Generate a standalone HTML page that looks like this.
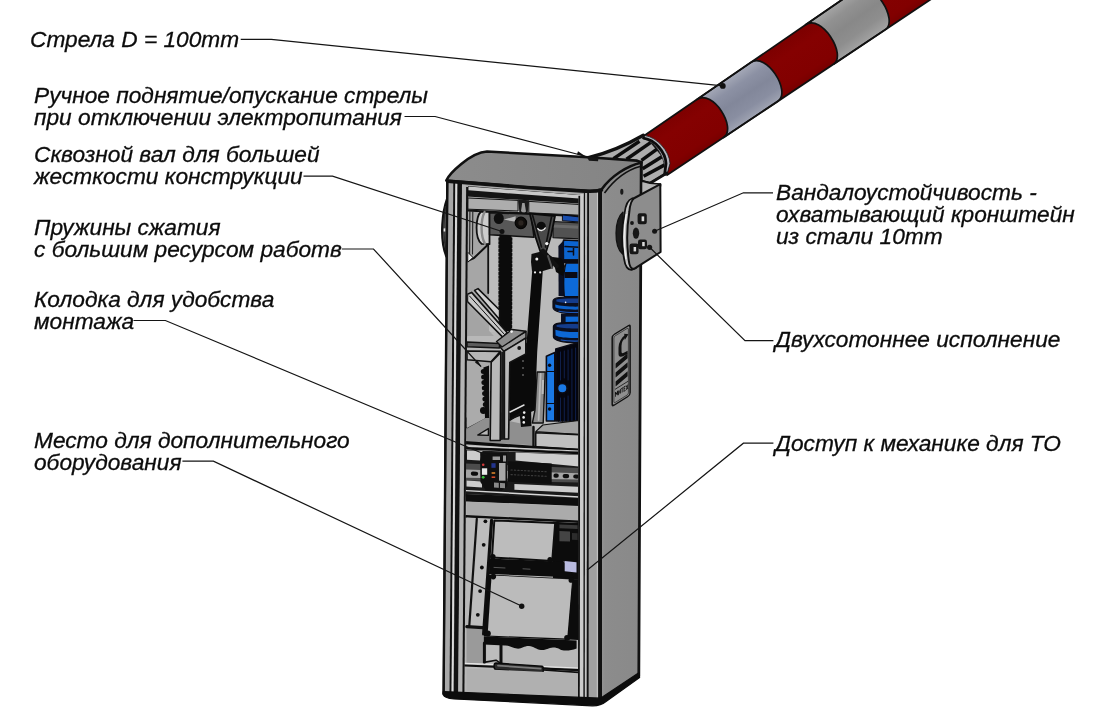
<!DOCTYPE html>
<html lang="ru">
<head>
<meta charset="utf-8">
<title>Шлагбаум - схема</title>
<style>
html,body{margin:0;padding:0;background:#fff;}
body{width:1099px;height:725px;overflow:hidden;position:relative;font-family:"Liberation Sans",sans-serif;}
svg{position:absolute;left:0;top:0;display:block;}
.lbl{position:absolute;font-family:"Liberation Sans",sans-serif;font-style:italic;font-size:22.7px;line-height:22px;color:#0c0c0c;-webkit-text-stroke:0.3px #0c0c0c;white-space:nowrap;will-change:transform;opacity:0.999;}
</style>
</head>
<body>
<svg id="art" width="1099" height="725" viewBox="0 0 1099 725">
<defs>
<linearGradient id="gSide" x1="0" y1="0" x2="1" y2="0">
<stop offset="0" stop-color="#949494"/><stop offset="0.12" stop-color="#8c8c8c"/><stop offset="1" stop-color="#898989"/>
</linearGradient>
<linearGradient id="gRed" gradientUnits="userSpaceOnUse" x1="700" y1="95" x2="728" y2="137">
<stop offset="0" stop-color="#7c0000"/><stop offset="0.3" stop-color="#850101"/><stop offset="0.8" stop-color="#820000"/><stop offset="1" stop-color="#740000"/>
</linearGradient>
<linearGradient id="gGr1" gradientUnits="userSpaceOnUse" x1="700" y1="95" x2="728" y2="137">
<stop offset="0" stop-color="#a8acba"/><stop offset="0.25" stop-color="#8c91a4"/><stop offset="0.5" stop-color="#82879a"/><stop offset="0.75" stop-color="#898ea1"/><stop offset="1" stop-color="#a4a8b6"/>
</linearGradient>
<linearGradient id="gGr2" gradientUnits="userSpaceOnUse" x1="810" y1="20" x2="840" y2="62">
<stop offset="0" stop-color="#a8a8a8"/><stop offset="0.25" stop-color="#919191"/><stop offset="0.5" stop-color="#888888"/><stop offset="0.75" stop-color="#8e8e8e"/><stop offset="1" stop-color="#a4a4a4"/>
</linearGradient>
<linearGradient id="gCap" x1="0" y1="0" x2="1" y2="0">
<stop offset="0" stop-color="#8c8c8c"/><stop offset="1" stop-color="#848484"/>
</linearGradient>
<clipPath id="clipIn"><path d="M468,186 L464.2,692 L579,698.5 L579,195 Z"/></clipPath>
</defs>
<g id="boom" stroke-linejoin="round">
<path d="M644.8,135.3 L859.1,-12.0 L947.8,-12.0 L666.4,175.6 Z" fill="url(#gRed)"/>
<path d="M696.7,99.6 C712.8,88.6 737.3,128.3 723.6,137.5 L777.9,101.2 C791.7,92.1 766.6,51.6 750.6,62.6 Z" fill="url(#gGr1)" stroke="#111" stroke-width="1.7"/>
<path d="M805.6,24.8 C821.6,13.8 847.2,55.1 833.5,64.2 L885.3,29.6 C899.1,20.5 873.0,-21.5 856.9,-10.5 Z" fill="url(#gGr2)" stroke="#111" stroke-width="1.7"/>
<path d="M644.8,135.3 L859.1,-12.0 M666.4,175.6 L947.8,-12.0" fill="none" stroke="#111" stroke-width="1.8"/>
</g>
<g id="hub" stroke-linejoin="round" stroke-linecap="round">
<path d="M587.5,158 Q617,150.5 643.5,135 L647,137 L669,163.5 L666.9,173 L650,183 L641.5,181 L641.5,162 Z" fill="#adadad" stroke="#111" stroke-width="2"/>
<g stroke="#0c0c0c" stroke-width="3.5" fill="none" stroke-linecap="butt">
<path d="M613.5,158.6 L639.5,141.2"/>
<path d="M626.5,159.2 L650.5,142.6"/>
<path d="M641.5,160.4 L658,148.4"/>
<path d="M642.6,168.8 L663,156"/>
<path d="M643.6,176.2 L665.6,164.4"/>
</g>
<path d="M645.5,135.6 C657,137.3 669.6,151 670,163.6 L667,174 L664.6,174.6 C666.6,160 657,142 643,138.4 Z" fill="#b4b4bc" stroke="#1a1a1a" stroke-width="0.8"/>
<path d="M643.6,138.2 C655,140 665.6,152 666,163.6 L664.6,174.6" fill="none" stroke="#0c0c0c" stroke-width="2.8"/>
<path d="M587.5,158 Q617,150.5 643.3,135.2" stroke="#111" stroke-width="3.4" fill="none"/>
<path d="M641.5,181 L650,183.3 L666.9,173" stroke="#111" stroke-width="2.8" fill="none"/>
</g>
<!-- ===== left outer shaft end ===== -->
<g id="leftknob">
<path d="M446.9,199.5 C443,210 438.6,238 446.6,257 Z" fill="#7e7e7e" stroke="#111" stroke-width="2.2"/>
<path d="M445.6,206 C443.6,220 443.4,238 445.8,250" fill="none" stroke="#2a2a2a" stroke-width="1.4"/>
<path d="M445.4,228.2 L443.6,228.4 L443.6,231.6 L445.4,231.6 Z" fill="#e8e8e8"/>
</g>
<!-- ===== CABINET SHELL ===== -->
<g id="cabinet" stroke-linejoin="round">
<!-- side face -->
<path d="M600.5,189 L600.5,701.5 L638.8,675.5 L641.2,162 C625,166 610,176 600.5,189 Z" fill="url(#gSide)" stroke="#111" stroke-width="2.8"/>
<!-- front face backing (pillars) -->
<path d="M447.3,181 L443.6,693.5 L600.5,702 L600.5,190 Z" fill="#a8a8a8" stroke="#111" stroke-width="2"/>
<!-- interior back wall -->
<path d="M468,188 L464.3,692 L578.5,698.5 L579,197 Z" fill="#b8b8b8"/>
<g id="interior" clip-path="url(#clipIn)">
<g stroke-linejoin="round" stroke-linecap="round">
<!-- ============ TOP HEADER ============ -->
<path d="M466,185 L580,194 L580,203.5 L466,196.5 Z" fill="#141414"/>
<path d="M468.4,186.6 L580,195 L580,198.6 L468.4,190.3 Z" fill="#c8c8c8"/>
<path d="M468.3,198 L518,200.4 L518,211 L468.3,209.2 Z" fill="#adadad" stroke="#111" stroke-width="1"/>
<path d="M529.2,201.4 L579.5,204.5 L579.5,215.2 L529.2,212.8 Z" fill="#adadad" stroke="#111" stroke-width="1"/>
<path d="M518,199.5 L529.2,200.3 L527.5,214 L523.6,217 L519.5,213 Z" fill="#1a1a1a"/>
<path d="M522.2,203 L524.6,203 L526,211.5 L523.6,214 L521,211 Z" fill="#9a9a9a"/>
<path d="M466,210.4 L580,216.4" stroke="#111" stroke-width="2" fill="none"/>

<!-- ============ back wall regions upper ============ -->
<path d="M467,212 L489,212 L489,345 L467,345 Z" fill="#a6a6a6"/>
<path d="M489,240 L500,240 L500,332 L489,332 Z" fill="#bcbcbc"/>
<path d="M511,238 L560,240 L560,372 L511,372 Z" fill="#bababa"/>
<path d="M488.2,244 L488.2,293" stroke="#111" stroke-width="1.8" fill="none"/>

<!-- ============ BLUE MOTOR ============ -->
<g id="motor" stroke="#0b0b14" stroke-width="1.6">
<!-- top strip above shaft -->
<path d="M562.8,215 L580,217 L580,222 L562.8,220.8 Z" fill="#1a4fae" stroke-width="1"/>
<!-- motor top box -->
<path d="M563.6,240 L580,240.8 L580,260 L561,260 Z" fill="#0c64d0"/>
<path d="M565,246.6 L580,247.2 M573.5,247 L573.5,255 M568,251.4 L573.5,251.4" fill="none" stroke-width="1.5"/>
<path d="M558.4,246 L564,240 L564.6,296 L558.6,296 Z" fill="#0a0f22" stroke="none"/>
<!-- neck band -->
<path d="M560,259.4 L580,259.4 L580,263.2 L560,263.2 Z" fill="#0a0a12" stroke="none"/>
<!-- cylinder -->
<path d="M566,263.2 L580,263.2 L580,296.5 L564.4,296.5 C563.4,286 563.6,272 566,263.2 Z" fill="#0d6ad9" stroke-width="1.2"/>
<path d="M564.6,272 L577.4,272 L577.4,278 L564.6,278 Z" fill="#0a0a14" stroke="none"/>
<!-- linkage black blob -->
<path d="M552.4,257 L561,258 L565,266 L563,276 L556,272 Z" fill="#0a0a0a" stroke="none"/>
<!-- flange 1 -->
<path d="M553,301 C553,297.4 560,296.6 580,297 L580,313.8 C562,314.4 553,311 553,307.6 Z" fill="#0a0f22" stroke-width="1.2"/>
<path d="M556.4,299.4 C562,298.4 572,298.4 580,298.6 L580,303 C570,303.4 561,302.6 556.4,301.4 Z" fill="#143c8c" stroke="none"/>
<path d="M555.2,304.6 C561,306.4 571,306.8 580,306.6 L580,309.6 C570,309.8 560,309.4 555.4,307.6 Z" fill="#0c62cc" stroke="none"/>
<path d="M559,311.2 C565,312.4 573,312.6 580,312.4" fill="none" stroke="#1c57ba" stroke-width="1.1"/>
<circle cx="565.6" cy="302.4" r="0.8" fill="#f0f0f0" stroke="none"/>
<!-- neck -->
<path d="M561,313.6 L580,313.6 L580,326 L561,326 Z" fill="#0a0f22" stroke="none"/>
<path d="M565.6,316.6 L578.6,316.6 L578.6,326 L565.6,326 Z" fill="#0d68d6" stroke="none"/>
<!-- flange 2 -->
<path d="M553.4,326.6 C553.4,323 560,322.2 580,322.4 L580,342.6 C562,343.2 553.4,340 553.4,336.8 Z" fill="#0a0f22" stroke-width="1.2"/>
<path d="M556.6,325 C562,324 572,324 580,324.2 L580,328.4 C570,328.8 561,328 556.6,326.8 Z" fill="#143c8c" stroke="none"/>
<path d="M555.4,329.8 C561,331.8 571,332.2 578.6,332 L578.6,338 C570,338.4 560,337.8 555.6,335.6 Z" fill="#0d68d6" stroke="none"/>
<path d="M561,340 C566,341 573,341.2 579.4,341" fill="none" stroke="#1c57ba" stroke-width="1.1"/>
<!-- gearbox fins block -->
<path d="M555.8,349 L580,342 L580,421 L555.8,421 Z" fill="#05060f"/>
<g stroke="#05050c" stroke-width="1.5" fill="none">
<path d="M558.6,351 L558.6,421 M562.4,349.5 L562.4,421 M566.2,348.4 L566.2,421 M570,347.3 L570,421 M573.8,346.2 L573.8,421 M577.4,345 L577.4,421"/>
</g>
<g stroke="#0f1f4a" stroke-width="1" fill="none">
<path d="M560.5,352 L560.5,380 M564.3,351 L564.3,378 M568.1,350 L568.1,380 M571.9,349 L571.9,421 M575.6,348 L575.6,421 M560.5,398 L560.5,421 M564.3,398 L564.3,421 M568.1,396 L568.1,421"/>
</g>
<!-- flat face -->
<path d="M546.4,356.3 L554.8,352.5 L554.8,421 L546.4,421 Z" fill="#1a78e4"/>
<path d="M546.4,371.5 L554.8,371.5 M546.4,403.5 L554.8,403.5" fill="none" stroke-width="1.1"/>
<circle cx="549.6" cy="365.2" r="1.7" fill="#0a0a12" stroke="none"/>
<circle cx="549.6" cy="409" r="1.7" fill="#0a0a12" stroke="none"/>
<circle cx="562.3" cy="388.2" r="4.8" fill="#1a78e4" stroke-width="1.6"/>
</g>

<!-- ============ SHAFT ============ -->
<path d="M469.9,211 L469.6,256 M472.8,211 L472.5,254" stroke="#222" stroke-width="1.1" fill="none"/>
<!-- wheel -->
<path d="M481,211.5 C475.5,217 474.5,238 481.5,243.8 L489.5,244.2 L489.5,211.8 Z" fill="#cdcdcd" stroke="#111" stroke-width="1.8"/>
<path d="M484.6,212 C480.5,220 480.5,236 485,243.8" fill="none" stroke="#8a8a8a" stroke-width="2.4"/>
<!-- under-wheel diagonal -->
<path d="M488.4,244.2 L474,258 L468.3,260.5" fill="none" stroke="#111" stroke-width="2"/>
<path d="M468,252.5 L473,257.5 L468,262 Z" fill="#e8e8e8" stroke="#111" stroke-width="1"/>
<!-- shaft right (cyl) -->
<path d="M553,221.5 L580,223 L580,239 L553,237.6 Z" fill="#525252" stroke="#111" stroke-width="1.2"/>
<path d="M553,226 L580,227.4" stroke="#6a6a6a" stroke-width="3" fill="none"/>
<!-- shaft block -->
<path d="M489.6,212.6 L531,214.2 L534,237.2 L489.6,234.8 Z" fill="#585858" stroke="#111" stroke-width="1.6"/>
<ellipse cx="498.8" cy="218.5" rx="5" ry="5.6" fill="#0e0e0e"/>
<path d="M503.8,219.6 L515.6,216.2 L515.6,221.8 Z" fill="#b8b8b8"/>
<circle cx="520.9" cy="222.9" r="5.7" fill="#100e0c" stroke="#050505" stroke-width="1.2"/>
<circle cx="520.9" cy="222.9" r="2.6" fill="#2a2420"/>
<!-- lever / clevis -->
<path d="M529.8,213.6 L555,216 L551,236 L546,252 L540.5,252 L535.5,237 Z" fill="#4a4a4a" stroke="#0c0c0c" stroke-width="1.8"/>
<path d="M532.5,215 L541.5,247" stroke="#111" stroke-width="1.6" fill="none"/>
<path d="M551.5,217 L545.5,247" stroke="#111" stroke-width="1.6" fill="none"/>
<circle cx="541.2" cy="226.3" r="4.6" fill="#0c0c0c"/>
<path d="M537.8,228.6 C539.5,231.2 543.5,231.4 545.2,228" fill="none" stroke="#efefef" stroke-width="1.4"/>
<circle cx="546.8" cy="243.6" r="1.7" fill="#f4f4f4"/>
<!-- pin joint -->
<path d="M531.5,254 L543,251 L554,258 L553,268 L543,271 L532,271 L531,262 Z" fill="#0e0e0e"/>
<circle cx="536.8" cy="259" r="1.5" fill="#f0f0f0"/>
<circle cx="552.5" cy="261.5" r="1.4" fill="#f0f0f0"/>
<path d="M543,251 L556.5,266" stroke="#111" stroke-width="4.5" fill="none"/>
<path d="M548,256 L552,268" stroke="#555" stroke-width="2" fill="none"/>

<!-- ============ CHAIN ============ -->
<path d="M499.4,234.5 L511.4,235.5 L511,331 L499.2,331 Z" fill="#0b0b0b"/>
<path d="M499.2,238 L499.2,330" stroke="#0b0b0b" stroke-width="1.6" stroke-dasharray="2.2,1.6" fill="none"/>
<path d="M511.6,238 L511.4,330" stroke="#0b0b0b" stroke-width="1.6" stroke-dasharray="2.2,1.6" fill="none"/>

<!-- ============ BRACES ============ -->
<path d="M467.5,307.5 L499,341.6 L467.5,341.6 Z" fill="#a4a4a4"/>
<path d="M474.6,290.4 L478,288.6 L499.6,310 L499.6,319.5 Z" fill="#d0d0d0" stroke="#111" stroke-width="1.6"/>
<path d="M467.4,294.2 L471.6,292.4 L507.2,332.6 L503.2,337.6 L467.4,301.5 Z" fill="#c8c8c8" stroke="#111" stroke-width="1.6"/>
<path d="M469.5,296 L504.5,334.5" stroke="#111" stroke-width="1" fill="none"/>

<!-- ============ SPRING ROD (black) ============ -->
<path d="M532.2,270.6 L542.8,270.6 L537.2,352 L534.8,410 L524.5,410 L526.4,345 Z" fill="#0a0a0a"/>
<circle cx="535" cy="272.4" r="1.1" fill="#eee"/><circle cx="540.2" cy="272.4" r="1.1" fill="#eee"/>

<!-- ============ SHELF / platform ============ -->
<path d="M467,441.6 L467,427.6 L487,416 L533.3,426.3 L533.3,445.2 Z" fill="#8f8f8f"/>
<path d="M467,418 L486,406 L486,416 L467,427 Z" fill="#bababa" stroke="#111" stroke-width="1.2"/>
<path d="M467,427.6 L490,414.5" stroke="#111" stroke-width="1.6" fill="none"/>
<path d="M477.8,435 L488.4,428.6 L488.4,435.4 Z" fill="#b8b8b8" stroke="#111" stroke-width="1.4"/>
<!-- ============ MOUNT BLOCK (kolodka) ============ -->
<!-- dark interior behind -->
<path d="M509.5,352 L536,338 L536,410 L509.5,420 Z" fill="#0a0a0a"/>
<!-- left gray region + coil spring -->
<path d="M467,360 L491.3,362 L491.3,415 L467,428 Z" fill="#ababab"/>
<path d="M483.4,367.5 L489,365.6 L489.2,418 L485,418 Z" fill="#0c0c0c"/>
<g fill="#0c0c0c"><circle cx="483.3" cy="371.5" r="2.5"/><circle cx="483.6" cy="377.0" r="2.5"/><circle cx="483.9" cy="382.5" r="2.5"/><circle cx="484.3" cy="388.0" r="2.5"/><circle cx="484.6" cy="393.5" r="2.5"/><circle cx="484.9" cy="399.0" r="2.5"/><circle cx="485.3" cy="404.5" r="2.5"/><circle cx="483.4" cy="410.5" r="3.4"/></g>
<!-- top bar -->
<path d="M467,336 L499,336 L499,342 L467,342 Z" fill="#b8b8b8"/>
<path d="M467,342 L499.5,343.5 L499.5,348 L467,346.8 Z" fill="#5c5c5c" stroke="#111" stroke-width="1.4"/>
<!-- top face -->
<path d="M467,351 L500.5,351.4 L491,361.8 L467,359.8 Z" fill="#b6b6b6" stroke="#111" stroke-width="1.6"/>
<!-- top platform of block (angled to right) -->
<path d="M499.6,346.5 L526,331.5 L526,338.5 L504,351.5 Z" fill="#999999" stroke="#111" stroke-width="1.5"/>
<path d="M496.5,341.5 L512,329.5 L526,331.2 L502,347 Z" fill="#8c8c8c" stroke="#111" stroke-width="1.4"/>
<circle cx="511.6" cy="331.6" r="1.3" fill="#f2f2f2"/>
<!-- right face (inverted L) -->
<path d="M504.4,351 L525.8,338 L525.8,354 L509.8,362.4 L508.6,439 L504.4,439 Z" fill="#bababa" stroke="#111" stroke-width="1.6"/>
<circle cx="519.2" cy="348" r="1.9" fill="#141414"/>
<!-- front strip -->
<path d="M491.2,362.2 L500.8,352.4 L500.2,440.5 L490.2,440.5 Z" fill="#b8b8b8" stroke="#111" stroke-width="1.6"/>
<path d="M501.3,352 L504.4,351 L504.4,439.5 L501,440 Z" fill="#1a1a1a"/>
<!-- white dots in dark -->
<circle cx="523" cy="361" r="0.8" fill="#999"/><circle cx="523" cy="368" r="0.8" fill="#999"/><circle cx="523" cy="375" r="0.8" fill="#999"/>

<!-- ============ GAS SPRING lower ============ -->
<path d="M537.2,372 L545.2,372 L543.2,423 L532.4,423 L535,410 Z" fill="#8d8d8d" stroke="#111" stroke-width="1.4"/>
<path d="M540.6,374 L538.6,420" stroke="#b8b8b8" stroke-width="1.8" fill="none"/>
<path d="M542,380 L544,380 L543.6,394 L541.6,394 Z" fill="#bbb"/>

<!-- ============ SHELF items ============ -->
<!-- pin cluster -->
<path d="M519,408 L531,407 L531.5,426 L521,427 Z" fill="#0c0c0c"/>
<path d="M510,412 L524,405" stroke="#ddd" stroke-width="1.4" fill="none"/>
<path d="M510,420 L521,413" stroke="#111" stroke-width="2" fill="none"/>
<circle cx="524.2" cy="412.6" r="1.3" fill="#eee"/><circle cx="523.6" cy="417.4" r="1.3" fill="#eee"/><circle cx="523.8" cy="422.4" r="1.3" fill="#eee"/>
<!-- right light box -->
<path d="M535.7,431.6 L542.8,425 L579,420.4 L579,434.6 Z" fill="#a2a2a2" stroke="#111" stroke-width="1.2"/>
<path d="M535.7,432.8 L579,434.6 L579,449.6 L535.7,447 Z" fill="#c0c0c0" stroke="#111" stroke-width="1.6"/>
<path d="M533.5,427 L533.5,447" stroke="#111" stroke-width="2.4" fill="none"/>

<!-- ============ DIVIDER ============ -->
<path d="M464,442.6 L533.3,447.4 L579.5,450.4" stroke="#0c0c0c" stroke-width="3.2" fill="none"/>
<path d="M466,448.3 L579.5,453" stroke="#0c0c0c" stroke-width="2.6" fill="none"/>
<path d="M466,446 L579.5,451" stroke="#cfcfcf" stroke-width="1.1" fill="none"/>

<!-- ============ DIN RAIL SECTION ============ -->
<path d="M466,450 L580,454.6 L580,500 L466,494 Z" fill="#1a1a1a"/>
<path d="M467,450.6 L482.5,451.2 L480,460.4 L467,459.8 Z" fill="#cdcdcd"/>
<path d="M515.6,452.6 L579,455 L579,466.6 L515.6,460.4 Z" fill="#cdcdcd"/>
<!-- rail -->
<path d="M466,463.6 L580,468 L580,482.4 L466,480.6 Z" fill="#4c4c4c"/>
<path d="M466,469.6 L580,473.4 L580,479.6 L466,477.8 Z" fill="#a4a4a4"/>
<g fill="#0c0c0c">
<rect x="470.8" y="471.6" width="7.4" height="4.2" rx="2.1" transform="rotate(1.5 474 474)"/>
<rect x="553.4" y="473.6" width="5.4" height="4.2" rx="2.1" transform="rotate(1.5 556 476)"/>
<rect x="562.6" y="474" width="6.6" height="4.2" rx="2.1" transform="rotate(1.5 566 476)"/>
<rect x="573.2" y="474.4" width="6" height="4.2" rx="2.1" transform="rotate(1.5 576 476)"/>
</g>
<!-- below rail light strip -->
<path d="M466.5,480.6 L482,481.6 L482,487.4 L466.5,486.4 Z" fill="#cccccc"/>
<path d="M514.4,483.9 L578,486.8 L578,492.8 L514.4,489.8 Z" fill="#cccccc"/>
<!-- breaker -->
<path d="M480.2,452 L507,453.4 L507.4,486 L501,491.4 L486,490.4 L480.4,482 Z" fill="#101010"/>
<path d="M492.6,456.4 L500,456.4 L500,460 L492.6,460 Z M503,455.4 L506,455.4 L506,461.4 L503,461.4 Z" fill="#9a9a9a"/>
<rect x="481.9" y="468.3" width="5.3" height="6.5" fill="#e9e9e9"/>
<rect x="499" y="463" width="6.5" height="17.7" fill="#a6a6a6"/>
<circle cx="483.2" cy="464.8" r="1.3" fill="#d23a3a"/>
<rect x="491.4" y="463.2" width="4.2" height="4.6" fill="#22348e"/>
<rect x="491.6" y="472.2" width="3.6" height="1.6" fill="#d9822b"/>
<rect x="491.6" y="476.4" width="3.6" height="1.6" fill="#d44a2a"/>
<circle cx="483.2" cy="477.3" r="1.4" fill="#38c43c"/>
<path d="M494,482.6 L505,483.2 L505,488.2 L494,487.6 Z" fill="#8a8a8a"/>
<path d="M499.4,482.8 L499.4,488" stroke="#111" stroke-width="1.2"/>
<!-- terminal block -->
<path d="M508,461.2 L551.7,463.4 L551.7,484 L508,481.8 Z" fill="#0e0e0e"/>
<path d="M511,470 L548,471.8 M511,474.6 L548,476.4" stroke="#3c3c3c" stroke-width="1.1" stroke-dasharray="1.3,2.1" fill="none"/>

<!-- ============ lines / gray panel ============ -->
<path d="M466,490.6 L580,497" stroke="#d6d6d6" stroke-width="1.4" fill="none"/>
<path d="M466,494 L580,498.6 L580,506 L466,501.4 Z" fill="#0e0e0e"/>
<path d="M466.5,501.8 L578,506.4 L578,520.4 L466.5,514.8 Z" fill="#ababab"/>
<path d="M466,516.4 L579,521.8" stroke="#0e0e0e" stroke-width="2.6" fill="none"/>

<!-- ============ LOWER COMPARTMENT ============ -->
<path d="M466.5,517.5 L578,523 L578,664 L466.5,660 Z" fill="#b8b8b8"/>
<path d="M466.5,628 L483,629 L483,664 L466.5,663 Z" fill="#9a9a9a"/>
<!-- left diag line + plate -->
<path d="M478.6,519.6 L489.8,520.2 L482.4,626.8 L471,625.8 Z" fill="#bdbdbd"/>
<path d="M476.8,518.8 L469.2,627" stroke="#111" stroke-width="2.2" fill="none"/>
<path d="M466.8,626.6 L482.6,627.6" stroke="#111" stroke-width="3.2" fill="none"/>
<path d="M491.6,520.4 L483.6,634" stroke="#0e0e0e" stroke-width="3.2" fill="none"/>
<g fill="#0e0e0e">
<circle cx="485.4" cy="521.3" r="1.9"/><circle cx="483.7" cy="544.8" r="1.9"/><circle cx="481.9" cy="567.5" r="1.9"/><circle cx="480.1" cy="591.1" r="1.9"/><circle cx="477.8" cy="614.8" r="1.9"/>
</g>
<!-- dark device right -->
<path d="M553,521.8 L579,523 L579,580 L553,578 Z" fill="#0c0c0c"/>
<path d="M559.4,524.4 L577.6,525.2 L577.6,529 L559.4,528.2 Z" fill="#3a3a3a"/>
<path d="M559.4,531 L570,531.4 L570,541.6 L559.4,541.2 Z" fill="#444"/>
<path d="M572,533 L577.6,533.2 L577.6,540 L572,539.8 Z" fill="#2c2c2c"/>
<path d="M564,562 C563.6,566 561,569 556,569.4" fill="none" stroke="#d9d9d9" stroke-width="1"/>
<!-- upper box -->
<path d="M494.3,520.5 L555.2,522.9 L552.2,561 L492,557.4 Z" fill="#bcbcbc" stroke="#0e0e0e" stroke-width="2"/>
<!-- black band -->
<path d="M489.6,558.4 L564,562 L574,577.4 L489,574 Z" fill="#0c0c0c"/>
<path d="M494,567.4 L505,568" stroke="#555" stroke-width="1" fill="none"/>
<path d="M523,568.8 L530,569.2" stroke="#555" stroke-width="1" fill="none"/>
<path d="M564.7,561 L576.5,562.2 L576.5,572.4 L564.7,571.2 Z" fill="#b9bbe0"/>
<!-- lower box -->
<path d="M488.2,574.4 L573,578.8 L569.6,640 L483.8,636.4 Z" fill="#0c0c0c"/>
<path d="M491.6,575.4 L572.2,579.6 L567.2,638.6 L487.6,635.6 Z" fill="#bbbbbb"/>
<path d="M572.6,579 L578.4,579.4 L578.4,640 L568,639.4 Z" fill="#0c0c0c"/>
<g fill="#0c0c0c">
<circle cx="492.8" cy="556.8" r="2.8"/><circle cx="550" cy="559.6" r="2.6"/>
<circle cx="493.3" cy="576.6" r="2.8"/><circle cx="571.2" cy="580.2" r="2.6"/>
<circle cx="487.8" cy="633.4" r="3"/><circle cx="567" cy="637.8" r="2.8"/>
</g>
<!-- scalloped band -->
<path d="M483.7,636.4 L576.6,640.4 L576.6,648.4 C572,650 568,650.8 564,650.4 C560,650 558,647.2 553,647.4 C548,647.6 546,650.4 541,650 C536,649.6 534,646.2 529,646 C524,645.8 522,649 517,648.6 C512,648.2 510,645.4 505,645.6 L483.7,644.4 Z" fill="#0c0c0c"/>
<!-- posts + small light square -->
<path d="M484.4,643 L484.4,662.6" stroke="#0e0e0e" stroke-width="3" fill="none"/>
<path d="M486.6,645.4 L499,646 L499,661 L486.6,660.6 Z" fill="#bdbdbd"/>
<path d="M501,645 L501,662.4" stroke="#0e0e0e" stroke-width="3" fill="none"/>
<!-- floor lines -->
<path d="M464.7,663.4 L579,668" stroke="#e6e6e6" stroke-width="1.2" fill="none"/>
<path d="M464.7,665.5 L579,670" stroke="#0e0e0e" stroke-width="2.2" fill="none"/>
<path d="M484,662.4 L496,660.2 L500,662.8" stroke="#0e0e0e" stroke-width="1.6" fill="none"/>
<!-- rod -->
<path d="M496,663 L541.8,666.2 C544,666.4 544,672.6 541.8,672.6 L496,669.8 C493.4,669.6 493.4,663 496,663 Z" fill="#2a2a2a" stroke="#0a0a0a" stroke-width="1.4"/>
<path d="M498,665.6 L540.6,668.6" stroke="#7a7a7a" stroke-width="1.8" fill="none"/>
<path d="M543,668.2 L579,670.6" stroke="#0e0e0e" stroke-width="1.4" fill="none"/>
<!-- floor front panel -->
<path d="M466.5,668.4 L578,673.6 L578,698.6 L466.5,692.4 Z" fill="#b0b0b0"/>
<path d="M543.4,670 L578.5,672.4" stroke="#0e0e0e" stroke-width="1.6" fill="none"/>
</g>

</g>
<!-- left pillar strips -->
<g fill="none" stroke="#111">
<path d="M454.3,182 L450.5,694" stroke-width="2"/>
<path d="M456.3,182 L452.5,694" stroke="#dcdcdc" stroke-width="1.7"/>
<path d="M459.75,182 L455.95,694" stroke-width="4.5"/>
<path d="M464,183 L460.2,694" stroke="#b4b4b4" stroke-width="3.7"/>
<path d="M467.15,187 L463.4,693" stroke-width="2"/>
</g>
<!-- right pillar strips -->
<g fill="none" stroke="#111">
<path d="M589.5,191 L589.2,701" stroke="#a0a0a0" stroke-width="22"/>
<path d="M579.4,196 L578.9,699" stroke-width="1.8"/>
<path d="M582,194 L581.6,700" stroke="#cbcbcb" stroke-width="3.4"/>
<path d="M584.5,193 L584.1,700.2" stroke-width="1.3"/>
<path d="M586,193 L585.6,700.4" stroke="#c4c4c4" stroke-width="1.2"/>
<path d="M588.1,192 L587.7,700.5" stroke-width="1.8"/>
<path d="M597.5,192 L597.3,701" stroke="#c6c6c6" stroke-width="1"/>
</g>
<!-- outline again -->
<path d="M447.3,181 L443.6,693.5 L600.5,702" fill="none" stroke="#111" stroke-width="2.4"/>
<path d="M600,190 L600,702" fill="none" stroke="#111" stroke-width="3.8"/>
<!-- base thick band -->
<path d="M443.2,691.6 L600.5,698.2 L639.2,672.6 L639.6,677.4 L606.4,701.2 C602.5,704.4 598,706 592,705.8 L454,698.9 C448.5,698.6 444.6,697.6 443,694.4 Z" fill="#0c0c0c" stroke="#0c0c0c" stroke-width="1.2" stroke-linejoin="round"/>
<!-- logo plate -->
<g id="logo" transform="translate(612.2,335.7) skewY(-31.8)">
<rect x="0" y="0" width="17.9" height="70.6" rx="2.2" fill="#8f8f8f" stroke="#111" stroke-width="1.5"/>
<rect x="1.7" y="2" width="14.5" height="66.6" rx="1.4" fill="none" stroke="#222" stroke-width="0.6"/>
<path d="M14.6,8.6 C10,8.6 7.8,11.6 7.8,16 L7.8,21.6 C7.8,25 9.6,26 15.4,26" fill="none" stroke="#111" stroke-width="3"/>
<path d="M12,5.6 L16.2,8.6 L12.6,12 Z" fill="#111"/>
<path d="M3.4,30 L15.4,27 L15.4,32 L3.4,35 Z M3.4,39 L15.4,36 L15.4,41 L3.4,44 Z M3.4,48 L15.4,45 L15.4,50 L3.4,53 Z" fill="#111"/>
<path d="M2.8,55.4 L16,55.4" stroke="#111" stroke-width="0.7" fill="none"/>
<path d="M3.2,63 L3.2,58.6 L4.3,61.2 L5.4,58.6 L5.4,63 M6.3,58.6 L6.3,63 L8.2,58.6 L8.2,63 M8.9,58.6 L11,58.6 M9.95,58.6 L9.95,63 M13.4,58.6 L11.8,58.6 L11.8,63 L13.4,63 M11.8,60.8 L13,60.8 M14,58.6 L15.8,63 M15.8,58.6 L14,63" fill="none" stroke="#111" stroke-width="0.8"/>
</g>
<!-- small hole side -->
<ellipse cx="621.8" cy="191.7" rx="1.6" ry="3" fill="#1a1a1a"/>
<!-- top cap -->
<path d="M446.3,180.5 C449,174 470,152.5 487,151.5 L588,157.3 L637,160.6 L641.5,162.5 C627,166 611,176 601.5,189.5 C598,190.5 592,191 585,190.5 L530,187.2 Z" fill="url(#gCap)" stroke="#111" stroke-width="2.6"/>
<path d="M640,166.5 C627,170 614,180 604.5,193" fill="none" stroke="#111" stroke-width="1.6"/>
<path d="M447.4,181.2 L530,187.9 L585,191.2 C592,191.6 598,191 601.5,190" fill="none" stroke="#111" stroke-width="3.4" stroke-linecap="round"/>
<!-- knob on cap -->
<path d="M586.5,156.5 L598.5,158 L598,161.2 L589,160.8 Z" fill="#151515"/>
</g>
<!-- ===== BRACKET ===== -->
<g id="bracket" stroke-linejoin="round">
<!-- bracket top thickness / shelf under hub -->
<path d="M641.5,181 L650,183.3 L660.5,184 L660.5,186 L641.5,196 Z" fill="#b5b5b5" stroke="#111" stroke-width="1.6"/>
<!-- hub behind plate -->
<path d="M623,212 C614,220 613.5,246 622.5,254 Z" fill="#1c1c1c" stroke="#111" stroke-width="1.2"/>
<!-- plate thickness band -->
<path d="M632,198.5 C627,200 625.5,206 624.6,213 C621.5,228 621.8,246 624.2,259.5 C625,266 628,270.5 632,269.8 L636,268 L636,198 Z" fill="#c2c2c2" stroke="#111" stroke-width="1.8"/>
<path d="M626.3,214 C623.5,229 623.7,246 626,259" fill="none" stroke="#f2f2f2" stroke-width="1.2"/>
<!-- plate face -->
<path d="M660.3,184.2 L634.5,198 C631,200 629.8,206 629.3,212 C626.6,228 626.8,246 628.7,260 C629.3,266 631,270 634.5,268.6 L660.6,252 Z" fill="#8d8d8d" stroke="#111" stroke-width="2"/>
<!-- bolts -->
<g fill="#161616">
<rect x="637.6" y="213.2" width="9.2" height="11" rx="2.2"/>
<rect x="629.6" y="243.6" width="9" height="10.6" rx="2.2"/>
<rect x="638" y="239.6" width="9" height="9.6" rx="2.2"/>
<ellipse cx="636" cy="233.2" rx="3.2" ry="5.6"/>
<circle cx="632" cy="223" r="1.9"/>
<circle cx="654.6" cy="231.2" r="2.5"/>
<circle cx="649.6" cy="247.3" r="2.6"/>
</g>
<g fill="#d9d9d9">
<rect x="641.6" y="216.4" width="2.6" height="4.8"/>
<rect x="633.6" y="247" width="2.5" height="4.4"/>
<rect x="642.2" y="242" width="2.5" height="4.2"/>
</g>
</g>
<!-- ===== LEADERS ===== -->
<g id="leaders" fill="none" stroke="#141414" stroke-width="1.2">
<polyline points="240.7,39.4 271.3,39.4 722.8,85.8"/>
<polyline points="404.5,116.5 435.1,116.5 588,157"/>
<polyline points="303.5,176.2 332.5,176.2 502,231.5"/>
<polyline points="341.8,249 373.5,249 481,366.5"/>
<polyline points="133.5,320.5 165.4,320.5 486.5,455"/>
<polyline points="182.4,461.2 213.4,461.2 521.5,606"/>
<polyline points="773,192.8 743.4,192.8 654.6,231.2"/>
<polyline points="773.4,340.6 745,340.6 649.6,247.3"/>
<polyline points="773.4,443.2 743.4,443.2 587,570.3"/>
</g>
<g fill="#111">
<circle cx="722.8" cy="85.9" r="2.9"/>
<path d="M586.5,157 L578,151.2 L577,154.3 Z"/>
<path d="M481.6,367.2 L477.4,360.2 L475,362.4 Z"/>
<circle cx="502" cy="231.5" r="2.5"/>
<circle cx="521.7" cy="606.2" r="2.7"/>
</g>
</svg>
<div class="lbl" id="t1" style="left:29.6px;top:27.8px;">Стрела D = 100mm</div>
<div class="lbl" id="t2" style="left:33.8px;top:84px;">Ручное поднятие/опускание стрелы<br>при отключении электропитания</div>
<div class="lbl" id="t3" style="left:33.7px;top:142.7px;">Сквозной вал для большей<br>жесткости конструкции</div>
<div class="lbl" id="t4" style="left:33.8px;top:216.3px;">Пружины сжатия<br>с большим ресурсом работв</div>
<div class="lbl" id="t5" style="left:33.7px;top:287.5px;">Колодка для удобства<br>монтажа</div>
<div class="lbl" id="t6" style="left:33.6px;top:428.9px;">Место для дополнительного<br>оборудования</div>
<div class="lbl" id="t7" style="left:775.5px;top:181.3px;">Вандалоустойчивость -<br>охватывающий кронштейн<br>из стали 10mm</div>
<div class="lbl" id="t8" style="left:775.3px;top:328.2px;">Двухсотоннее исполнение</div>
<div class="lbl" id="t9" style="left:775.3px;top:431.6px;">Доступ к механике для ТО</div>
</body>
</html>
